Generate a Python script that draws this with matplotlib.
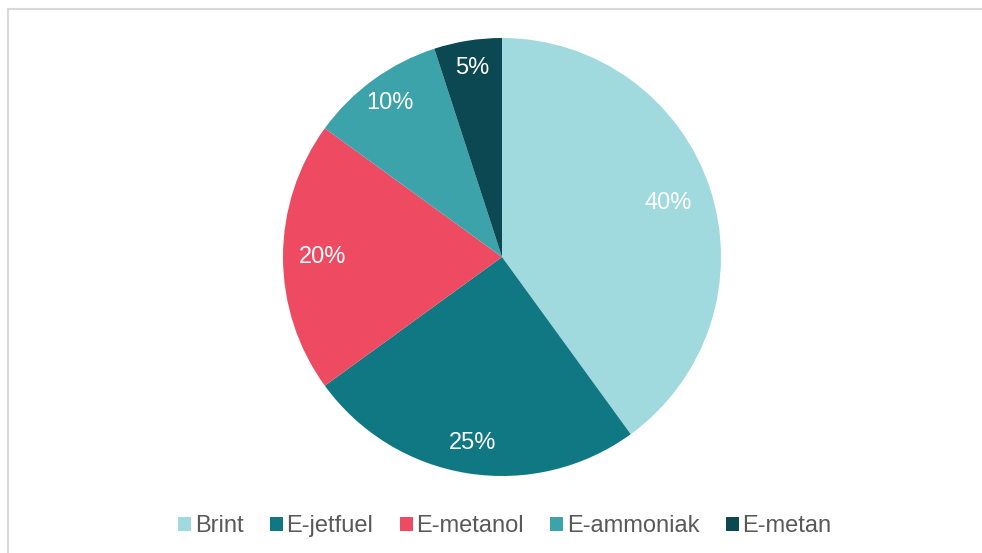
import numpy as np
import matplotlib.pyplot as plt
from matplotlib.lines import Line2D
from matplotlib.patches import Patch

plt.rcParams['font.family'] = ['Liberation Sans', 'DejaVu Sans']

categories = ['Brint', 'E-jetfuel', 'E-metanol', 'E-ammoniak', 'E-metan']
values = [40, 25, 20, 10, 5]
colors = ['#A0DADE', '#107882', '#EE4B62', '#3BA3A9', '#0C4851']

# label distance from centre per slice (Excel "best fit" placement)
label_dist = [0.80, 0.86, 0.82, 0.87, 0.875]

fig = plt.figure(figsize=(9.82, 5.53), dpi=100)
W, H = 982, 553
cx, cy, r = 502, 257, 219
ax = fig.add_axes([(cx - r) / W, (H - cy - r) / H, 2 * r / W, 2 * r / H])

wedges, texts = ax.pie(values, colors=colors, startangle=90, counterclock=False,
                       radius=1, wedgeprops=dict(linewidth=0))
total = sum(values)
for w, v, d in zip(wedges, values, label_dist):
    ang = np.deg2rad((w.theta1 + w.theta2) / 2)
    ax.text(d * np.cos(ang), d * np.sin(ang), f'{v / total * 100:.0f}%',
            color='white', fontsize=17, ha='center', va='center')
ax.set_xlim(-1, 1)
ax.set_ylim(-1, 1)
ax.set_aspect('equal')

# chart frame (top and left edges visible)
fig.add_artist(Line2D([8 / W, 1], [1 - 9 / H, 1 - 9 / H], color='#D9D9D9', lw=1.5))
fig.add_artist(Line2D([8 / W, 8 / W], [0, 1 - 9 / H], color='#D9D9D9', lw=1.5))

handles = [Patch(facecolor=c, edgecolor='none') for c in colors]
leg = fig.legend(handles, categories, loc='center', bbox_to_anchor=(505 / W, 1 - 526 / H),
                 ncol=5, frameon=False, fontsize=17, handlelength=0.55, handleheight=0.55,
                 handletextpad=0.15, columnspacing=1.12)
for t in leg.get_texts():
    t.set_color('#595959')

fig.savefig('out.png', dpi=100)
